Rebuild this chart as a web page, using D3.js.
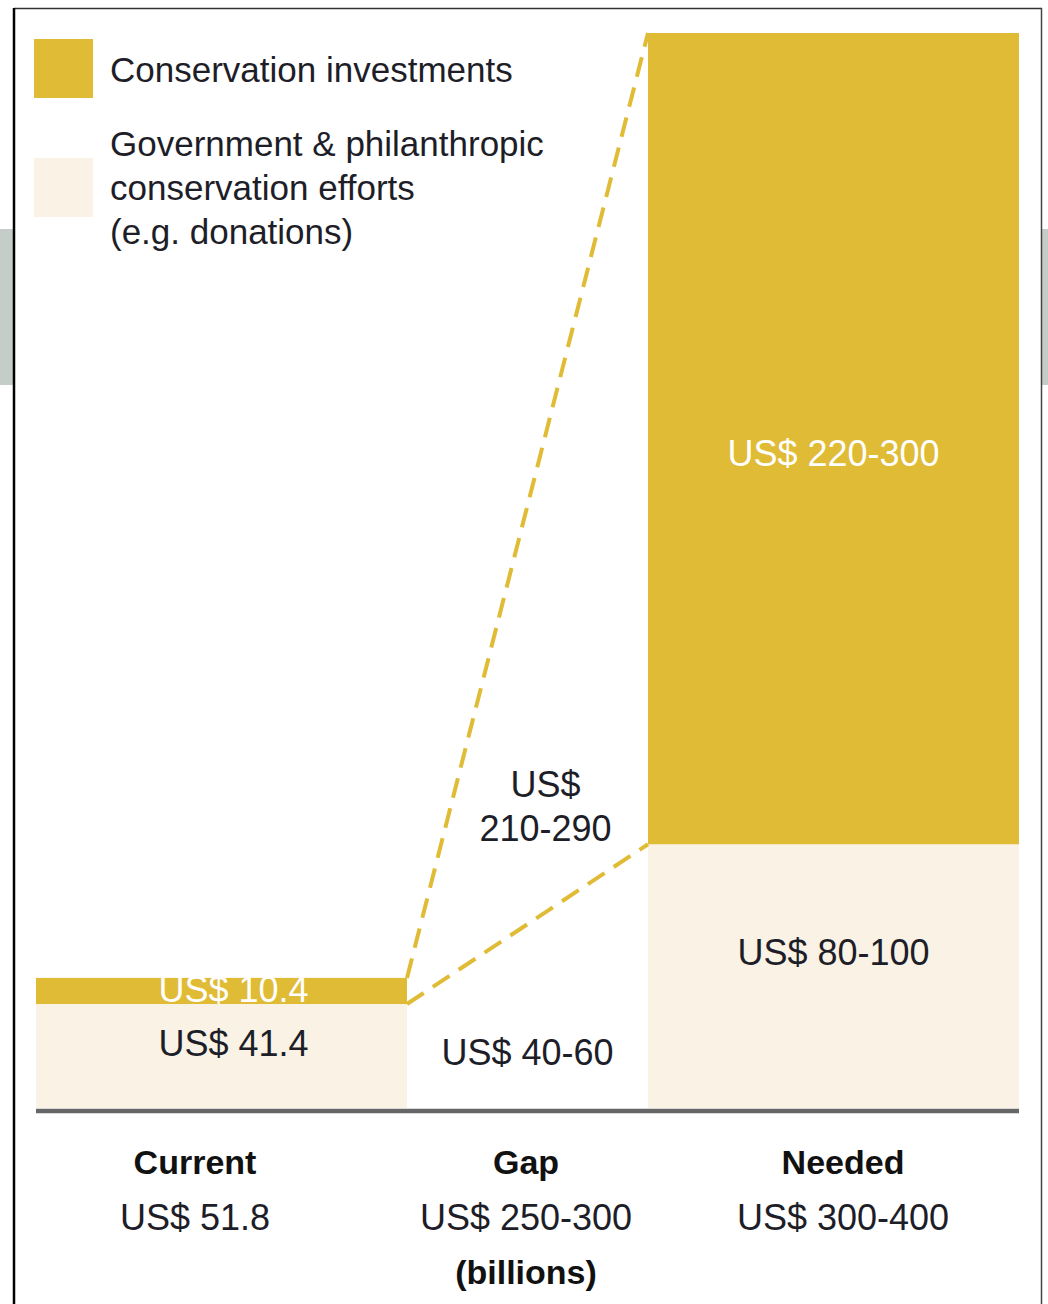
<!DOCTYPE html>
<html>
<head>
<meta charset="utf-8">
<script src="https://cdnjs.cloudflare.com/ajax/libs/d3/7.8.5/d3.min.js"></script>
<style>
  html, body { margin: 0; padding: 0; background: #fff; }
  svg text { font-family: "Liberation Sans", Arial, Helvetica, sans-serif; }
</style>
</head>
<body>
<div id="chart"></div>
<script>
const WIDTH = 1048;
const HEIGHT = 1304;

// columns
const categories = ["Current", "Gap", "Needed"];
// bar heights (billions, on the scale of the Current bar)
const govValues = [41.4, 0, 105];
const investValues = [10.4, 0, 323];
// labels
const govLabels = ["US$ 41.4", "US$ 40-60", "US$ 80-100"];
const investLabels = ["US$ 10.4", "US$ 210-290", "US$ 220-300"];
const totalLabels = ["US$ 51.8", "US$ 250-300", "US$ 300-400"];
const legendItems = [
  { key: "invest", lines: ["Conservation investments"] },
  { key: "gov", lines: ["Government & philanthropic", "conservation efforts", "(e.g. donations)"] }
];

const GOLD = "#e0bb35";
const CREAM = "#f9f2e5";
const INK = "#1e1e28";

const svg = d3.select("#chart")
  .append("svg")
  .attr("width", WIDTH)
  .attr("height", HEIGHT);

// gray strips behind the frame
svg.append("rect").attr("x", 0).attr("y", 229).attr("width", 14).attr("height", 156).attr("fill", "#c5cdc8");
svg.append("rect").attr("x", 1042).attr("y", 229).attr("width", 6).attr("height", 156).attr("fill", "#c5cdc8");

// frame
svg.append("rect")
  .attr("x", 14).attr("y", 8)
  .attr("width", 1028).attr("height", HEIGHT)
  .attr("fill", "#fff");
svg.append("line").attr("x1", 14).attr("y1", 8.5).attr("x2", 1042).attr("y2", 8.5)
  .attr("stroke", "#333").attr("stroke-width", 1.5);
svg.append("line").attr("x1", 14).attr("y1", 8).attr("x2", 14).attr("y2", HEIGHT)
  .attr("stroke", "#000").attr("stroke-width", 2.5);
svg.append("line").attr("x1", 1041.5).attr("y1", 8).attr("x2", 1041.5).attr("y2", HEIGHT)
  .attr("stroke", "#444").attr("stroke-width", 1.5);

// scales
const x = d3.scaleOrdinal().domain(categories).range([36, 407, 648]);
const w = d3.scaleOrdinal().domain(categories).range([371, 241, 371]);
const labelX = d3.scaleOrdinal().domain(categories).range([195, 526, 843]);

const y = d3.scaleLinear()
  .domain([0, 428])
  .range([1108, 33]);

const data = categories.map((c, i) => ({
  cat: c,
  gov: govValues[i],
  invest: investValues[i],
  govLabel: govLabels[i],
  investLabel: investLabels[i],
  total: totalLabels[i]
}));

const bars = data.filter(d => d.gov + d.invest > 0);

// government & philanthropic (bottom)
svg.selectAll(".gov")
  .data(bars)
  .enter().append("rect")
  .attr("class", "gov")
  .attr("x", d => x(d.cat))
  .attr("width", d => w(d.cat))
  .attr("y", d => y(d.gov))
  .attr("height", d => y(0) - y(d.gov))
  .attr("fill", CREAM);

// conservation investments (top)
svg.selectAll(".invest")
  .data(bars)
  .enter().append("rect")
  .attr("class", "invest")
  .attr("x", d => x(d.cat))
  .attr("width", d => w(d.cat))
  .attr("y", d => y(d.gov + d.invest))
  .attr("height", d => y(d.gov) - y(d.gov + d.invest))
  .attr("fill", GOLD);

// dashed connectors from Current to Needed
const cur = data[0], need = data[2];
const x0 = x(cur.cat) + w(cur.cat), x1 = x(need.cat);
[[cur.gov + cur.invest, need.gov + need.invest], [cur.gov, need.gov]].forEach(p => {
  svg.append("line")
    .attr("x1", x0).attr("y1", y(p[0]))
    .attr("x2", x1).attr("y2", y(p[1]))
    .attr("stroke", GOLD)
    .attr("stroke-width", 4)
    .attr("stroke-dasharray", "20,11");
});

// baseline
svg.append("line")
  .attr("x1", 36).attr("x2", 1019)
  .attr("y1", y(0) + 3).attr("y2", y(0) + 3)
  .attr("stroke", "#666")
  .attr("stroke-width", 4.5);

// labels inside the bars
const barCenter = d => x(d.cat) + w(d.cat) / 2;

svg.append("text")
  .attr("x", barCenter(cur) + 12).attr("y", y(cur.gov) - 2)
  .attr("text-anchor", "middle").attr("font-size", "36px")
  .attr("fill", "#fff").text(cur.investLabel);
svg.append("text")
  .attr("x", barCenter(cur) + 12).attr("y", y(cur.gov) + 52)
  .attr("text-anchor", "middle").attr("font-size", "36px")
  .attr("fill", INK).text(cur.govLabel);

svg.append("text")
  .attr("x", barCenter(need)).attr("y", 466)
  .attr("text-anchor", "middle").attr("font-size", "36px")
  .attr("fill", "#fff").text(need.investLabel);
svg.append("text")
  .attr("x", barCenter(need)).attr("y", y(need.gov) + 121)
  .attr("text-anchor", "middle").attr("font-size", "36px")
  .attr("fill", INK).text(need.govLabel);

// gap labels
const gap = data[1];
const gapParts = gap.investLabel.split(" ");
svg.append("text")
  .attr("x", barCenter(gap) + 18).attr("y", 797)
  .attr("text-anchor", "middle").attr("font-size", "36px")
  .attr("fill", INK)
  .selectAll("tspan")
  .data(gapParts)
  .enter().append("tspan")
  .attr("x", barCenter(gap) + 18)
  .attr("dy", (d, i) => i === 0 ? 0 : 44)
  .text(d => d);
svg.append("text")
  .attr("x", barCenter(gap)).attr("y", 1065)
  .attr("text-anchor", "middle").attr("font-size", "36px")
  .attr("fill", INK).text(gap.govLabel);

// category labels below
svg.selectAll(".cat")
  .data(data)
  .enter().append("text")
  .attr("class", "cat")
  .attr("x", d => labelX(d.cat)).attr("y", 1174)
  .attr("text-anchor", "middle").attr("font-size", "34px")
  .attr("font-weight", "bold").attr("fill", "#111")
  .text(d => d.cat);

svg.selectAll(".tot")
  .data(data)
  .enter().append("text")
  .attr("class", "tot")
  .attr("x", d => labelX(d.cat)).attr("y", 1230)
  .attr("text-anchor", "middle").attr("font-size", "36px")
  .attr("fill", INK)
  .text(d => d.total);

svg.append("text")
  .attr("x", labelX("Gap")).attr("y", 1284)
  .attr("text-anchor", "middle").attr("font-size", "34px")
  .attr("font-weight", "bold").attr("fill", "#111")
  .text("(billions)");

// legend
const legendColor = { invest: GOLD, gov: CREAM };
const legendY = [39, 158];
const legendTextY = [82, 156];
legendItems.forEach((item, i) => {
  svg.append("rect")
    .attr("x", 34).attr("y", legendY[i])
    .attr("width", 59).attr("height", 59)
    .attr("fill", legendColor[item.key]);
  const t = svg.append("text")
    .attr("x", 110).attr("y", legendTextY[i])
    .attr("font-size", "35px").attr("fill", INK);
  t.selectAll("tspan")
    .data(item.lines)
    .enter().append("tspan")
    .attr("x", 110)
    .attr("dy", (d, j) => j === 0 ? 0 : 44)
    .text(d => d);
});
</script>
</body>
</html>
